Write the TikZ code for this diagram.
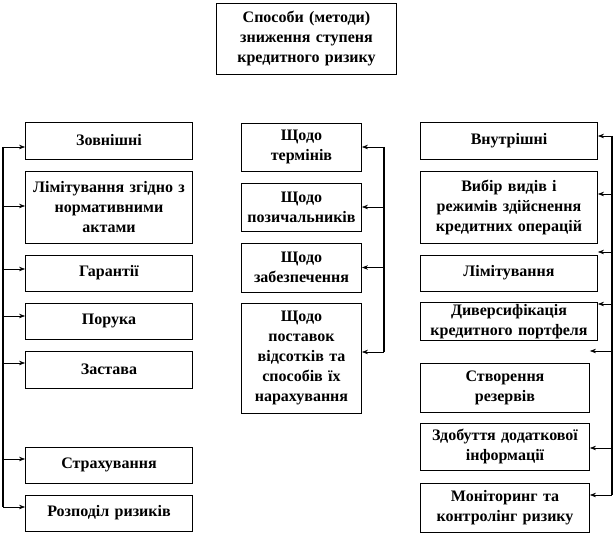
\documentclass[tikz,border=0pt]{standalone}
\usepackage{fontspec}
\setmainfont{Liberation Serif}
\usetikzlibrary{arrows.meta}

\tikzstyle{box}=[rectangle,draw=black,line width=0.9pt,inner xsep=3pt,inner ysep=2pt,text centered,font=\bfseries\fontsize{16}{20}\selectfont]
\tikzstyle{lbox}=[box,text width=161pt]
\tikzstyle{mbox}=[box,text width=114pt]
\tikzstyle{rbox}=[box,text width=171pt]
\tikzstyle{rsbox}=[box,text width=163pt]
\tikzstyle{pre}=[<-,>={Stealth[length=6pt,width=4.5pt]},line width=0.6pt]
\tikzstyle{trunk}=[line width=1.2pt]

\begin{document}
\begin{tikzpicture}[x=1pt,y=1pt]
        \useasboundingbox (0,0) rectangle (614,-534);

        \node[box,text width=174pt,minimum height=71pt] (top) at (306.5,-38.5) {Способи (методи)\\зниження ступеня\\кредитного ризику};

        % зовнішні
        \node[lbox,minimum height=37pt] (zovn) at (109,-140.5)                     {Зовнішні};
        \node[lbox,minimum height=72pt] (limn) [below of=zovn, node distance=66.5pt] {Лімітування згідно з\\нормативними\\актами};
        \node[lbox,minimum height=36pt] (gar)  [below of=limn, node distance=66pt]   {Гарантії};
        \node[lbox,minimum height=36pt] (por)  [below of=gar,  node distance=48pt]   {Порука};
        \node[lbox,minimum height=37pt] (zast) [below of=por,  node distance=48.5pt] {Застава};
        \node[lbox,minimum height=36pt] (strakh) [below of=zast, node distance=95.5pt] {Страхування};
        \node[lbox,minimum height=36pt] (rozp) [below of=strakh, node distance=48pt] {Розподіл ризиків};

        % щодо
        \node[mbox,minimum height=48pt]  (term) at (301.5,-147)                       {Щодо\\термінів};
        \node[mbox,minimum height=48pt]  (poz)  [below of=term, node distance=60pt]   {Щодо\\позичальників};
        \node[mbox,minimum height=49pt]  (zab)  [below of=poz,  node distance=60.5pt] {Щодо\\забезпечення};
        \node[mbox,minimum height=110pt] (post) [below of=zab,  node distance=90.5pt] {Щодо\\поставок\\відсотків та\\способів їх\\нарахування};

        % внутрішні
        \node[rbox,minimum height=37pt] (vnut) at (509,-140.5)                     {Внутрішні};
        \node[rbox,minimum height=72pt] (vyb)  [below of=vnut, node distance=66.5pt] {Вибір видів і\\режимів здійснення\\кредитних операцій};
        \node[rbox,minimum height=36pt] (limv) [below of=vyb,  node distance=66pt]   {Лімітування};
        \node[rbox,minimum height=37pt] (dyv)  [below of=limv, node distance=48.5pt] {Диверсифікація\\кредитного портфеля};
        \node[rsbox,minimum height=49pt] (stvr) at (505,-387.5)                    {Створення\\резервів};
        \node[rsbox,minimum height=47pt] (zdob) [below of=stvr, node distance=59pt] {Здобуття додаткової\\інформації};
        \node[rsbox,minimum height=49pt] (mon)  [below of=zdob, node distance=61pt] {Моніторинг та\\контролінг ризику};

        \coordinate (ltop) at (3,-147);
        \coordinate (lbot) at (3,-507);
        \draw[trunk] (ltop) -- (lbot);
        \draw[pre] ([yshift=-6.5pt]zovn.west) -- +(-22,0);
        \draw[pre] ([yshift=1pt]limn.west)    -- +(-22,0);
        \draw[pre] ([yshift=4pt]gar.west)     -- +(-22,0);
        \draw[pre] ([yshift=5pt]por.west)     -- +(-22,0);
        \draw[pre] ([yshift=6.5pt]zast.west)  -- +(-22,0);
        \draw[pre] ([yshift=6pt]strakh.west)  -- +(-22,0);
        \draw[pre] ([yshift=6pt]rozp.west)    -- +(-22,0);

        \coordinate (mtop) at (384,-147);
        \coordinate (mbot) at (384,-352);
        \draw[trunk] (mtop) -- (mbot);
        \draw[pre] (term.east)               -- +(22,0);
        \draw[pre] (poz.east)                -- +(22,0);
        \draw[pre] (zab.east)                -- +(22,0);
        \draw[pre] ([yshift=6pt]post.east)   -- +(22,0);

        \coordinate (rtop) at (612,-136);
        \coordinate (rbot) at (612,-495);
        \draw[trunk] (rtop) -- (rbot);
        \draw[pre] ([yshift=4.5pt]vnut.east)  -- +(14,0);
        \draw[pre] ([yshift=13pt]vyb.east)    -- +(14,0);
        \draw[pre] ([yshift=21pt]limv.east)   -- +(14,0);
        \draw[pre] ([yshift=17.5pt]dyv.east)  -- +(14,0);
        \draw[pre] ([yshift=36.5pt]stvr.east) -- +(22,0);
        \draw[pre] ([yshift=-1.5pt]zdob.east) -- +(22,0);
        \draw[pre] ([yshift=12.5pt]mon.east)  -- +(22,0);
\end{tikzpicture}
\end{document}
